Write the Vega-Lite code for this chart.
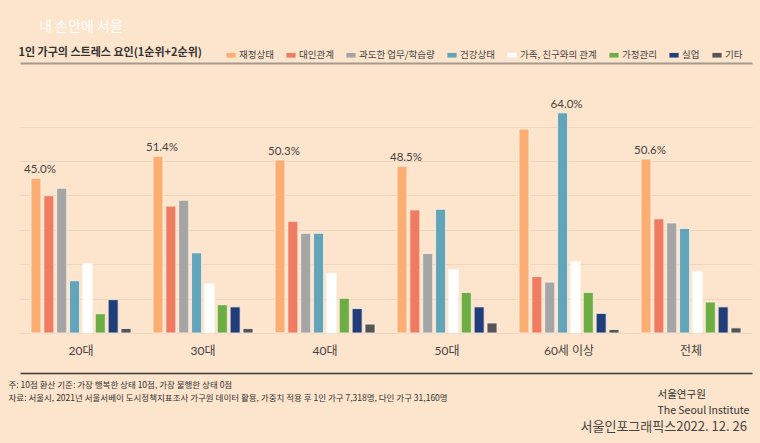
{
  "$schema": "https://vega.github.io/schema/vega-lite/v6.json",
  "width": 732,
  "height": 270,
  "autosize": {"type": "none"},
  "padding": {"left": 20, "top": 63, "right": 8, "bottom": 110},
  "background": "#fde4cc",
  "config": {"view": {"stroke": null}, "font": "Noto Sans CJK KR"},
  "title": {"text": "내 손안에 서울", "anchor": "start", "frame": "group", "dx": 19, "offset": 12, "color": "#ffffff", "fontSize": 14, "fontWeight": "normal", "opacity": 0.85},
  "data": {
    "values": [
      {"group": "20대", "factor": "재정상태", "value": 45.0},
      {"group": "20대", "factor": "대인관계", "value": 39.9},
      {"group": "20대", "factor": "과도한 업무/학습량", "value": 42.1},
      {"group": "20대", "factor": "건강상태", "value": 15.2},
      {"group": "20대", "factor": "가족, 친구와의 관계", "value": 20.3},
      {"group": "20대", "factor": "가정관리", "value": 5.6},
      {"group": "20대", "factor": "실업", "value": 9.7},
      {"group": "20대", "factor": "기타", "value": 1.3},
      {"group": "30대", "factor": "재정상태", "value": 51.4},
      {"group": "30대", "factor": "대인관계", "value": 36.9},
      {"group": "30대", "factor": "과도한 업무/학습량", "value": 38.6},
      {"group": "30대", "factor": "건강상태", "value": 23.3},
      {"group": "30대", "factor": "가족, 친구와의 관계", "value": 14.3},
      {"group": "30대", "factor": "가정관리", "value": 8.2},
      {"group": "30대", "factor": "실업", "value": 7.6},
      {"group": "30대", "factor": "기타", "value": 1.3},
      {"group": "40대", "factor": "재정상태", "value": 50.3},
      {"group": "40대", "factor": "대인관계", "value": 32.5},
      {"group": "40대", "factor": "과도한 업무/학습량", "value": 29.0},
      {"group": "40대", "factor": "건강상태", "value": 29.0},
      {"group": "40대", "factor": "가족, 친구와의 관계", "value": 17.4},
      {"group": "40대", "factor": "가정관리", "value": 10.1},
      {"group": "40대", "factor": "실업", "value": 7.1},
      {"group": "40대", "factor": "기타", "value": 2.6},
      {"group": "50대", "factor": "재정상태", "value": 48.5},
      {"group": "50대", "factor": "대인관계", "value": 35.8},
      {"group": "50대", "factor": "과도한 업무/학습량", "value": 23.1},
      {"group": "50대", "factor": "건강상태", "value": 36.0},
      {"group": "50대", "factor": "가족, 친구와의 관계", "value": 18.5},
      {"group": "50대", "factor": "가정관리", "value": 11.8},
      {"group": "50대", "factor": "실업", "value": 7.6},
      {"group": "50대", "factor": "기타", "value": 2.9},
      {"group": "60세 이상", "factor": "재정상태", "value": 59.3},
      {"group": "60세 이상", "factor": "대인관계", "value": 16.4},
      {"group": "60세 이상", "factor": "과도한 업무/학습량", "value": 14.8},
      {"group": "60세 이상", "factor": "건강상태", "value": 64.0},
      {"group": "60세 이상", "factor": "가족, 친구와의 관계", "value": 20.8},
      {"group": "60세 이상", "factor": "가정관리", "value": 11.8},
      {"group": "60세 이상", "factor": "실업", "value": 5.7},
      {"group": "60세 이상", "factor": "기타", "value": 1.0},
      {"group": "전체", "factor": "재정상태", "value": 50.6},
      {"group": "전체", "factor": "대인관계", "value": 33.2},
      {"group": "전체", "factor": "과도한 업무/학습량", "value": 32.0},
      {"group": "전체", "factor": "건강상태", "value": 30.4},
      {"group": "전체", "factor": "가족, 친구와의 관계", "value": 18.0},
      {"group": "전체", "factor": "가정관리", "value": 9.0},
      {"group": "전체", "factor": "실업", "value": 7.6},
      {"group": "전체", "factor": "기타", "value": 1.5}
    ]
  },
  "layer": [
    {
      "mark": {"type": "bar", "stroke": "#fff4ea", "strokeWidth": 0.8},
      "encoding": {
        "x": {
          "field": "group", "type": "nominal",
          "sort": ["20대", "30대", "40대", "50대", "60세 이상", "전체"],
          "scale": {"paddingInner": 0.18, "paddingOuter": 0.09},
          "axis": {
            "orient": "bottom", "offset": 40, "domainColor": "#3a3a3a", "domainWidth": 1.5,
            "ticks": false, "tickSize": 0, "labelPadding": -23, "labelBaseline": "middle", "labelAngle": 0,
            "labelFontSize": 12, "labelColor": "#444444", "labelFont": "Lato, Noto Sans CJK KR",
            "title": ["주: 10점 환산 기준: 가장 행복한 상태 10점, 가장 불행한 상태 0점", "자료: 서울시, 2021년 서울서베이 도시정책지표조사 가구원 데이터 활용, 가중치 적용 후 1인 가구 7,318명, 다인 가구 31,160명"],
            "titleFontSize": 8.5, "titleFontWeight": "normal", "titleColor": "#333333",
            "titleAnchor": "start", "titleAlign": "left", "titleX": -12, "titleY": 7, "titleBaseline": "top", "titleLineHeight": 13
          }
        },
        "xOffset": {
          "field": "factor", "type": "nominal",
          "sort": ["재정상태", "대인관계", "과도한 업무/학습량", "건강상태", "가족, 친구와의 관계", "가정관리", "실업", "기타"],
          "scale": {"paddingInner": 0.22, "paddingOuter": 0}
        },
        "y": {
          "field": "value", "type": "quantitative",
          "scale": {"domain": [0, 78.5], "nice": false},
          "axis": {
            "orient": "left", "values": [0, 10, 20, 30, 40, 50, 60], "grid": true, "gridColor": "#efd6c0", "gridWidth": 1,
            "domain": false, "ticks": false, "labels": false,
            "title": ["서울연구원", "The Seoul Institute"], "titleAngle": 0, "titleX": 637, "titleY": 334,
            "titleAlign": "left", "titleBaseline": "alphabetic", "titleFontSize": 10.5, "titleFontWeight": "normal",
            "titleColor": "#333333", "titleLineHeight": 16
          }
        },
        "color": {
          "field": "factor", "type": "nominal",
          "sort": ["재정상태", "대인관계", "과도한 업무/학습량", "건강상태", "가족, 친구와의 관계", "가정관리", "실업", "기타"],
          "scale": {
            "domain": ["재정상태", "대인관계", "과도한 업무/학습량", "건강상태", "가족, 친구와의 관계", "가정관리", "실업", "기타"],
            "range": ["#fcae72", "#ef7b61", "#a5a5a5", "#62a4b8", "#ffffff", "#6cae44", "#213e7a", "#555555"]
          },
          "legend": {
            "orient": "none", "legendX": 206, "legendY": -13, "direction": "horizontal", "columns": 8, "title": null,
            "symbolType": "M-1,-0.5H1V0.5H-1Z", "symbolSize": 85, "symbolStrokeWidth": 0, "labelFontSize": 9.5, "labelColor": "#444444",
            "columnPadding": 12, "labelOffset": 3
          }
        }
      }
    },
    {
      "transform": [
        {"joinaggregate": [{"op": "max", "field": "value", "as": "maxv"}], "groupby": ["group"]},
        {"filter": "datum.value == datum.maxv"},
        {"calculate": "format(datum.value, '.1f') + '%'", "as": "label"}
      ],
      "mark": {"type": "text", "baseline": "alphabetic", "dy": -5, "dx": 4, "fontSize": 11.5, "color": "#444444", "font": "Lato"},
      "encoding": {
        "x": {
          "field": "group", "type": "nominal",
          "sort": ["20대", "30대", "40대", "50대", "60세 이상", "전체"],
          "axis": {
            "orient": "top", "domainColor": "#a39a90", "domainWidth": 2, "ticks": false, "labels": false,
            "title": "1인 가구의 스트레스 요인(1순위+2순위)", "titleAnchor": "start", "titleAlign": "left",
            "titleX": -2, "titleY": -8, "titleBaseline": "alphabetic", "titleFontSize": 11, "titleFontWeight": "bold", "titleColor": "#333333"
          }
        },
        "xOffset": {
          "field": "factor", "type": "nominal",
          "sort": ["재정상태", "대인관계", "과도한 업무/학습량", "건강상태", "가족, 친구와의 관계", "가정관리", "실업", "기타"]
        },
        "y": {
          "field": "value", "type": "quantitative",
          "axis": {
            "orient": "right", "grid": false, "domain": false, "ticks": false, "labels": false,
            "title": "서울인포그래픽스2022. 12. 26", "titleAngle": 0, "titleX": -172, "titleY": 367,
            "titleAlign": "left", "titleBaseline": "alphabetic", "titleFontSize": 13, "titleFontWeight": "normal", "titleColor": "#444444"
          }
        },
        "text": {"field": "label"}
      }
    }
  ],
  "resolve": {"axis": {"x": "independent", "y": "independent"}}
}
